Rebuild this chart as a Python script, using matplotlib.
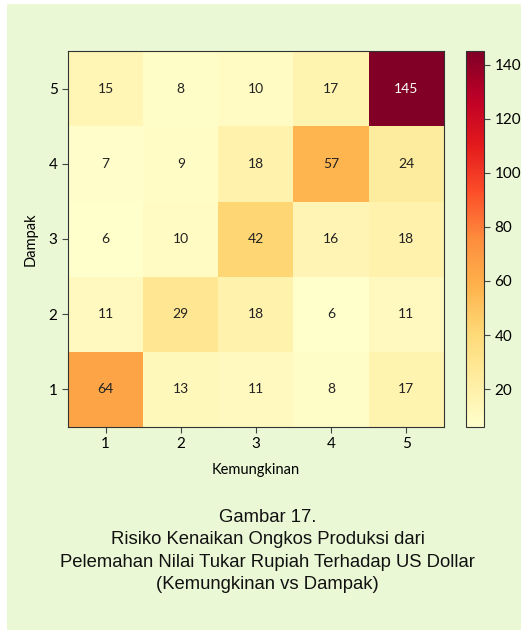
import numpy as np
import matplotlib
matplotlib.use("Agg")
import matplotlib.pyplot as plt
from matplotlib.patches import Rectangle

# Kemungkinan (x) 1..5, Dampak (y) 1..5
kemungkinan = [1, 2, 3, 4, 5]
dampak = [1, 2, 3, 4, 5]
# rows = dampak 1..5 (bottom to top), cols = kemungkinan 1..5
counts = [
    [64, 13, 11, 8, 17],
    [11, 29, 18, 6, 11],
    [6, 10, 42, 16, 18],
    [7, 9, 18, 57, 24],
    [15, 8, 10, 17, 145],
]
cbar_ticks = [20, 40, 60, 80, 100, 120, 140]
caption = ("Gambar 17.\n"
           "Risiko Kenaikan Ongkos Produksi dari\n"
           "Pelemahan Nilai Tukar Rupiah Terhadap US Dollar\n"
           "(Kemungkinan vs Dampak)")

bg = "#ebf8d6"
W, H = 521, 630
fig = plt.figure(figsize=(W / 100, H / 100), dpi=100, facecolor="white")
fig.patches.append(Rectangle((7 / W, 0), 1 - 7 / W, 1 - 4 / H,
                             transform=fig.transFigure, facecolor=bg,
                             edgecolor="none", zorder=-10))

tick_font = "Lato"
data = np.array(counts)

ax = fig.add_axes([68 / W, 1 - 427 / H, 376 / W, 376 / H])
im = ax.imshow(data, cmap="YlOrRd", origin="lower", vmin=6, vmax=145,
               extent=[0.5, 5.5, 0.5, 5.5], aspect="auto")
for i, row in enumerate(counts):
    for j, v in enumerate(row):
        ax.text(kemungkinan[j], dampak[i], str(v), ha="center", va="center",
                fontsize=10, family=tick_font,
                color="white" if v > 100 else "#222222")

ax.set_xticks(kemungkinan)
ax.set_yticks(dampak)
ax.tick_params(labelsize=11, length=4, color="#444444")
for lab in ax.get_xticklabels() + ax.get_yticklabels():
    lab.set_family(tick_font)
ax.set_xlabel("Kemungkinan", fontsize=10.5, family=tick_font, labelpad=8)
ax.set_ylabel("Dampak", fontsize=10.5, family=tick_font, labelpad=8)
for s in ax.spines.values():
    s.set_color("#333333")

cax = fig.add_axes([466 / W, 1 - 427 / H, 18 / W, 376 / H])
cb = fig.colorbar(im, cax=cax, ticks=cbar_ticks)
cb.ax.tick_params(labelsize=11, length=4, color="#444444")
for lab in cb.ax.get_yticklabels():
    lab.set_family(tick_font)
cb.outline.set_edgecolor("#333333")

fig.text(0.5 + 7 / W, 1 - 551 / H, caption, ha="center", va="center",
         fontsize=13.3, family="Liberation Sans", linespacing=1.4,
         color="#111111")

fig.savefig("out.png", dpi=100, facecolor=fig.get_facecolor())
